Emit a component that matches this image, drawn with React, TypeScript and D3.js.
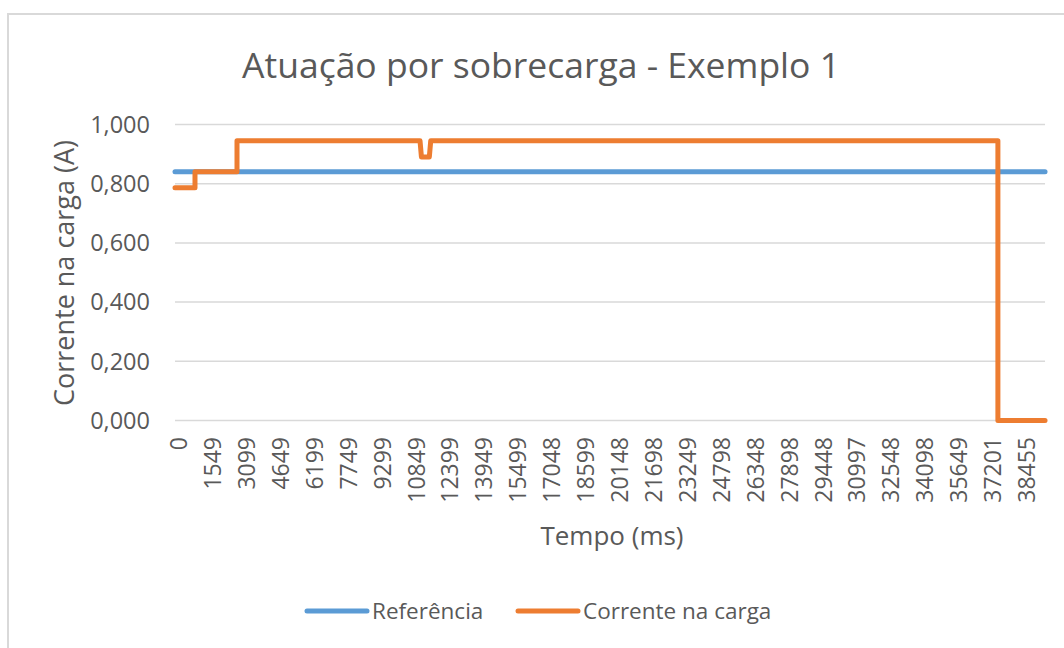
import React from "react";
import * as d3 from "d3";

const TITLE = "Atuação por sobrecarga - Exemplo 1";
const X_TITLE = "Tempo (ms)";
const Y_TITLE = "Corrente na carga (A)";

const tickTimes = [0, 1549, 3099, 4649, 6199, 7749, 9299, 10849, 12399, 13949, 15499, 17048, 18599, 20148, 21698, 23249, 24798, 26348, 27898, 29448, 30997, 32548, 34098, 35649, 37201, 38455];
const yTicks = [0, 0.2, 0.4, 0.6, 0.8, 1.0];

const endTime = 39270;

const refTimes = [0, endTime];
const refValues = [0.84, 0.84];

const loadTimes = [0, 913, 913, 2832, 2832, 11195, 11260, 11620, 11685, 37527, 37527, endTime];
const loadValues = [0.786, 0.786, 0.84, 0.84, 0.945, 0.945, 0.89, 0.89, 0.945, 0.945, 0, 0];

const series = [
  { name: "Referência", color: "#5b9bd5", times: refTimes, values: refValues },
  { name: "Corrente na carga", color: "#ed7d31", times: loadTimes, values: loadValues },
];

const FONT = "'Open Sans', sans-serif";
const TEXT = "#595959";
const GRID = "#d9d9d9";

export default function App() {
  const left = 175;
  const step = 33.92;
  const top = 124.5;
  const bottom = 420.5;

  const x = d3
    .scaleLinear()
    .domain(tickTimes)
    .range(tickTimes.map((_, i) => left + i * step));
  const y = d3.scaleLinear().domain([0, 1]).range([bottom, top]);
  const right = x(endTime);

  const loc = d3.formatLocale({ decimal: ",", thousands: ".", grouping: [3], currency: ["", ""] });
  const fmt = loc.format(".3f");

  const line = d3
    .line<[number, number]>()
    .x((d) => x(d[0]))
    .y((d) => y(d[1]));

  return (
    <svg
      width={1064}
      height={648}
      style={{ position: "absolute", left: 0, top: 0, background: "#fff" }}
      fontFamily={FONT}
    >
      <rect x={8} y={14} width={1070} height={650} fill="#fff" stroke="#d9d9d9" strokeWidth={2} />
      <text x={541} y={78} textAnchor="middle" fontSize={35.5} fill={TEXT}>
        {TITLE}
      </text>
      {yTicks.map((t) => (
        <g key={t}>
          <line x1={left} x2={right} y1={y(t)} y2={y(t)} stroke={GRID} strokeWidth={1.5} />
          <text x={150} y={y(t)} dy="0.35em" textAnchor="end" fontSize={23.5} fill={TEXT}>
            {fmt(t)}
          </text>
        </g>
      ))}
      {tickTimes.map((t) => (
        <text
          key={t}
          transform={`translate(${x(t) + 4},437) rotate(-90)`}
          textAnchor="end"
          dy="0.35em"
          fontSize={23}
          fill={TEXT}
        >
          {t}
        </text>
      ))}
      <text x={612} y={545} textAnchor="middle" fontSize={26} fill={TEXT}>
        {X_TITLE}
      </text>
      <text transform="translate(65,273) rotate(-90)" textAnchor="middle" dy="0.35em" fontSize={27} fill={TEXT}>
        {Y_TITLE}
      </text>
      {series.map((s) => (
        <path
          key={s.name}
          d={line(s.times.map((t, i) => [t, s.values[i]]) as [number, number][]) || ""}
          fill="none"
          stroke={s.color}
          strokeWidth={5}
          strokeLinejoin="round"
          strokeLinecap="round"
        />
      ))}
      {series.map((s, i) => {
        const lx = i === 0 ? 307 : 518;
        return (
          <g key={s.name}>
            <line x1={lx} x2={lx + 60} y1={611} y2={611} stroke={s.color} strokeWidth={5} strokeLinecap="round" />
            <text x={lx + 65} y={611} dy="0.35em" fontSize={22.5} fill={TEXT}>
              {s.name}
            </text>
          </g>
        );
      })}
    </svg>
  );
}
